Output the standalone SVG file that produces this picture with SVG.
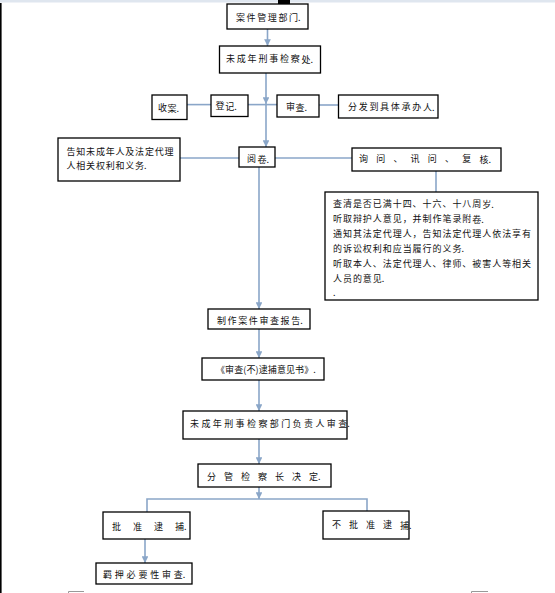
<svg xmlns="http://www.w3.org/2000/svg" width="555" height="593" viewBox="0 0 555 593">
<defs>
<marker id="ah" viewBox="0 0 10 10" refX="10" refY="5" markerWidth="4.2" markerHeight="4.2" orient="auto" markerUnits="strokeWidth">
<path d="M0,0 L10,5 L0,10 z" fill="#8aa6c8"/>
</marker>
<style>
.box{fill:#fff;stroke:#000;stroke-width:1.3}
.t{font-family:"Noto Sans CJK SC","Liberation Sans",sans-serif;font-size:9px;fill:#111;dominant-baseline:central}
.p{letter-spacing:0}
.c{fill:none;stroke:#8aa6c8;stroke-width:1.6}
.a{marker-end:url(#ah)}
</style>
</defs>
<rect width="555" height="593" fill="#fff"/>
<rect x="0" y="0" width="555" height="2.5" fill="#dfe6ef"/>
<rect x="0" y="3" width="1.6" height="590" fill="#000"/>
<rect x="278" y="0" width="12" height="4.5" fill="#000"/>
<path d="M68.5 593 V591.5 H84 M471.5 593 V591.5 H488" fill="none" stroke="#999" stroke-width="1"/>

<g id="connectors">
<path class="c a" d="M267.5 29 V46"/>
<path class="c a" d="M266 73 V104"/>
<path class="c a" d="M266 104 V147"/>
<path class="c" d="M187 104.6 H211"/>
<path class="c" d="M248 104.6 H277"/>
<path class="c" d="M319 105 H338.5"/>
<path class="c" d="M180 158 H239"/>
<path class="c" d="M275 158 H352"/>
<path class="c" d="M436 171 V192"/>
<path class="c a" d="M259 167 V309"/>
<path class="c a" d="M259 329 V358"/>
<path class="c a" d="M259 380 V411"/>
<path class="c a" d="M259 439 V464"/>
<path class="c a" d="M259 487 V499"/>
<path class="c" d="M147 512 V499 H367 V511"/>
<path class="c a" d="M145 539 V563"/>
</g>

<g id="n1"><rect class="box" x="227" y="4" width="81" height="25"/><text class="t" x="236" y="17" letter-spacing="1.6">案件管理部<tspan class="p">门.</tspan></text></g>
<g id="n2"><rect class="box" x="219.5" y="46" width="101" height="27"/><text class="t" x="226" y="58.5" letter-spacing="1.8">未成年刑事检察<tspan class="p">处.</tspan></text></g>
<g id="n3"><rect class="box" x="152" y="95" width="35" height="24.5"/><text class="t" x="158" y="107.5" letter-spacing="0.5">收<tspan class="p">案.</tspan></text></g>
<g id="n4"><rect class="box" x="211" y="95" width="37" height="21.5"/><text class="t" x="215.5" y="105.5" letter-spacing="0.8">登<tspan class="p">记.</tspan></text></g>
<g id="n5"><rect class="box" x="277" y="95" width="42" height="22"/><text class="t" x="286" y="106.5" letter-spacing="0.5">审<tspan class="p">查.</tspan></text></g>
<g id="n6"><rect class="box" x="338.5" y="95" width="99.5" height="23"/><text class="t" x="348" y="106.5" letter-spacing="1.7">分发到具体承办<tspan class="p">人.</tspan></text></g>
<g id="n7"><rect class="box" x="58" y="138" width="122" height="43"/><text class="t" x="66.5" y="151.7" letter-spacing="0.8">告知未成年人及法定代理</text><text class="t" x="66.5" y="165" letter-spacing="0.8">人相关权利和义<tspan class="p">务.</tspan></text></g>
<g id="n8"><rect class="box" x="239" y="147" width="36" height="20"/><text class="t" x="247" y="158.5" letter-spacing="1.5">阅<tspan class="p">卷.</tspan></text></g>
<g id="n9"><rect class="box" x="352" y="148" width="149" height="23"/><text class="t" x="359" y="158.5" letter-spacing="8.2">询问、讯问、复<tspan class="p">核.</tspan></text></g>
<g id="n10"><rect class="box" x="325" y="192" width="213" height="108"/>
<text class="t" x="333" y="203.5" letter-spacing="0.95">查清是否已满十四、十六、十八周<tspan class="p">岁.</tspan></text>
<text class="t" x="333" y="218.5" letter-spacing="0.95">听取辩护人意见，并制作笔录附<tspan class="p">卷.</tspan></text>
<text class="t" x="333" y="233.5" letter-spacing="0.95">通知其法定代理人，告知法定代理人依法享有</text>
<text class="t" x="333" y="248" letter-spacing="0.95">的诉讼权利和应当履行的义<tspan class="p">务.</tspan></text>
<text class="t" x="333" y="263" letter-spacing="0.95">听取本人、法定代理人、律师、被害人等相关</text>
<text class="t" x="333" y="278" letter-spacing="0.95">人员的意<tspan class="p">见.</tspan></text>
<text class="t" x="333" y="292">.</text>
</g>
<g id="n11"><rect class="box" x="208" y="309" width="102" height="20"/><text class="t" x="217" y="320" letter-spacing="1.6">制作案件审查报<tspan class="p">告.</tspan></text></g>
<g id="n12"><rect class="box" x="202" y="358" width="122" height="22"/><text class="t" x="216" y="369" letter-spacing="0.1">《审查(不)逮捕意见书》.</text></g>
<g id="n13"><rect class="box" x="183" y="411" width="164" height="28"/><text class="t" x="190" y="423" letter-spacing="2.4">未成年刑事检察部门负责人审<tspan class="p">查.</tspan></text></g>
<g id="n14"><rect class="box" x="198" y="464" width="133" height="23"/><text class="t" x="207" y="476" letter-spacing="8">分管检察长决<tspan class="p">定.</tspan></text></g>
<g id="n15"><rect class="box" x="103" y="512" width="87" height="27"/><text class="t" x="112" y="526" letter-spacing="12">批准逮<tspan class="p">捕.</tspan></text></g>
<g id="n16"><rect class="box" x="323" y="511" width="86" height="28"/><text class="t" x="332" y="524.5" letter-spacing="8">不批准逮<tspan class="p">捕.</tspan></text></g>
<g id="n17"><rect class="box" x="96" y="563" width="96" height="21"/><text class="t" x="103" y="574" letter-spacing="2.8">羁押必要性审<tspan class="p">查.</tspan></text></g>
</svg>
